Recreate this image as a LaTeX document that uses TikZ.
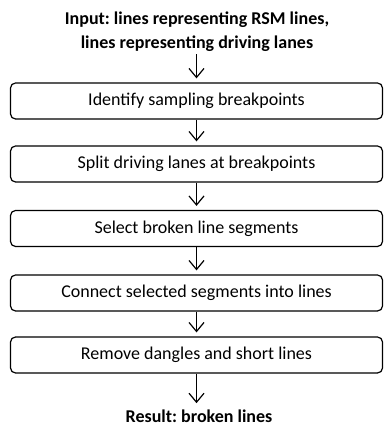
\documentclass[tikz,border=0pt]{standalone}
\usepackage{fontspec}
\setmainfont{Carlito}
\usetikzlibrary{arrows.meta}
\begin{document}
\frenchspacing
\begin{tikzpicture}[x=1pt,y=1pt,
  stepbox/.style={draw=black, line width=1.2pt, rounded corners=5pt,
    minimum width=372pt, minimum height=36pt, inner sep=0pt,
    font=\fontsize{18}{21}\selectfont},
  endtext/.style={font=\fontsize{18}{24}\selectfont\bfseries, align=center},
  flow/.style={line width=1.2pt, shorten >=4pt,
    -{Straight Barb[length=9pt,width=15pt,line width=1.2pt]}}]
  \useasboundingbox (0,0) rectangle (383,427);
  \node[endtext, inner sep=2pt] (in) at (197,395) {Input: lines representing RSM lines,\\lines representing driving lanes};
  \node[stepbox] (s1) at (196.5,326) {Identify sampling breakpoints};
  \node[stepbox] (s2) at (196.5,263) {Split driving lanes at breakpoints};
  \node[stepbox] (s3) at (196.5,198.5) {Select broken line segments};
  \node[stepbox] (s4) at (196.5,134) {Connect selected segments into lines};
  \node[stepbox] (s5) at (196.5,72) {Remove dangles and short lines};
  \node[endtext, inner sep=2pt, anchor=base] (out) at (199,5) {Result: broken lines};
  \draw[flow] (in.south -| s1.north) -- (s1.north);
  \draw[flow] (s1) -- (s2);
  \draw[flow] (s2) -- (s3);
  \draw[flow] (s3) -- (s4);
  \draw[flow] (s4) -- (s5);
  \draw[flow] (s5.south) -- (s5.south |- out.north);
\end{tikzpicture}
\end{document}
